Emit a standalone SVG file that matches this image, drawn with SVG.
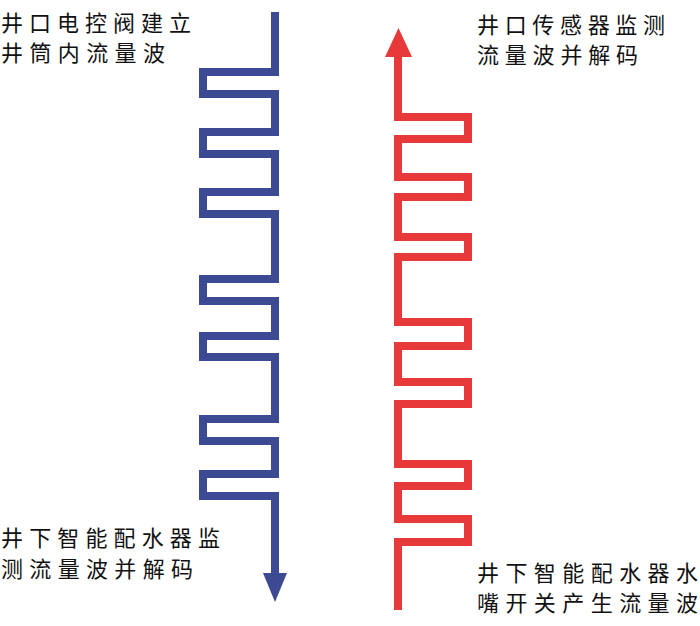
<svg xmlns="http://www.w3.org/2000/svg" width="700" height="626" viewBox="0 0 700 626">
<style>
.t{font-family:"Noto Sans CJK SC","Liberation Serif",serif;font-size:22px;fill:#111}
.w{fill:none;stroke-width:8;stroke-linejoin:miter;stroke-linecap:butt}
</style>
<rect width="700" height="626" fill="#fff"/>
<g id="label-top-left"><text class="t" x="1" y="31" textLength="190" lengthAdjust="spacing">井口电控阀建立</text><text class="t" x="1" y="61" textLength="164" lengthAdjust="spacing">井筒内流量波</text></g>
<g id="label-top-right"><text class="t" x="477" y="33" textLength="188" lengthAdjust="spacing">井口传感器监测</text><text class="t" x="477" y="63" textLength="161" lengthAdjust="spacing">流量波并解码</text></g>
<g id="label-bottom-left"><text class="t" x="1" y="546" textLength="219" lengthAdjust="spacing">井下智能配水器监</text><text class="t" x="1" y="577" textLength="192" lengthAdjust="spacing">测流量波并解码</text></g>
<g id="label-bottom-right"><text class="t" x="477" y="581" textLength="221" lengthAdjust="spacing">井下智能配水器水</text><text class="t" x="477" y="611" textLength="221" lengthAdjust="spacing">嘴开关产生流量波</text></g>
<g id="connectors">
<path class="w" stroke="#3c4a94" d="M275,12 V72 H203 V94 H275 V132 H203 V154 H275 V192 H203 V214 H275 V279 H203 V301 H275 V336 H203 V357 H275 V419 H203 V441 H275 V474 H203 V496 H275 V576"/>
<polygon fill="#3c4a94" points="263,573 287,573 275,602"/>
<path class="w" stroke="#e8393a" d="M398,610 V542 H468 V519 H398 V486 H468 V464 H398 V404 H468 V382 H398 V346 H468 V322 H398 V257 H468 V237 H398 V197 H468 V177 H398 V139 H468 V117 H398 V54"/>
<polygon fill="#e8393a" points="385,57 412,57 398.5,28"/>
</g>
</svg>
